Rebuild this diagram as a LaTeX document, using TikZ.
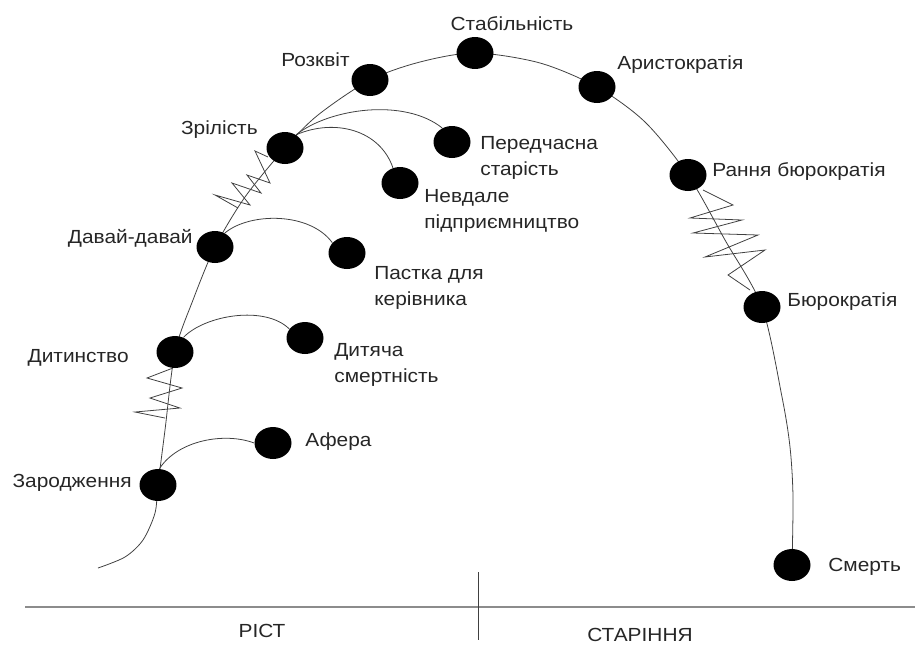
\documentclass[tikz,border=0pt]{standalone}
\usepackage{fontspec}
\setmainfont{Liberation Sans}[FakeStretch=1.1]
\usetikzlibrary{shapes.geometric,backgrounds}

\begin{document}
\begin{tikzpicture}[x=0.02cm,y=-0.02cm,
dot/.style={ellipse,fill=black,inner sep=0pt,minimum width=0.74cm,minimum height=0.64cm},
lbl/.style={inner sep=0pt,text=black!85,align=left,font=\fontsize{10.8}{14.8}\selectfont},
ln/.style={black!75,line width=0.45pt}]
\useasboundingbox(0,0)rectangle(915,646);
\node[dot](zar)at(158,485){};
\node[dot](afera)at(273,443){};
\node[dot](ditn)at(175,352){};
\node[dot](dyt)at(305,338){};
\node[dot](davai)at(215,247){};
\node[dot](pastka)at(347,253){};
\node[dot](zril)at(285,148){};
\node[dot](nevd)at(400,183){};
\node[dot](pered)at(452,142){};
\node[dot](rozkv)at(370,80){};
\node[dot](stab)at(475,53){};
\node[dot](aryst)at(597,87){};
\node[dot](rannia)at(688,175){};
\node[dot](biur)at(762,307){};
\node[dot](smert)at(792,565){};
\node[lbl,anchor=east](tzar)at(132,483){Зародження};
\node[lbl,anchor=west](tafera)at(305,442){Афера};
\node[lbl,anchor=east](tditn)at(129,358){Дитинство};
\node[lbl,anchor=west](tdyt)at(334,365){Дитяча\\смертність};
\node[lbl,anchor=east](tdavai)at(193,238){Давай-давай};
\node[lbl,anchor=west](tpastka)at(374,288){Пастка для\\керівника};
\node[lbl,anchor=east](tzril)at(258,130){Зрілість};
\node[lbl,anchor=west](tnevd)at(424,211){Невдале\\підприємництво};
\node[lbl,anchor=west](tpered)at(480,158){Передчасна\\старість};
\node[lbl,anchor=east](trozkv)at(350,60){Розквіт};
\node[lbl](tstab)at(512,24){Стабільність};
\node[lbl,anchor=west](taryst)at(617,65){Аристократія};
\node[lbl,anchor=west](trannia)at(712,172){Рання бюрократія};
\node[lbl,anchor=west](tbiur)at(787,302){Бюрократія};
\node[lbl,anchor=west](tsmert)at(828,567){Смерть};
\node[lbl](rist)at(262,631){РІСТ};
\node[lbl](star)at(640,635){СТАРІННЯ};
\begin{scope}[on background layer]
\draw[ln]plot[smooth,tension=0.5]coordinates{(98,568)(125,557)(143,540)(155,513)(zar.center)
(165,430)(ditn.center)(193,300)(davai.center)(245,197)(zril.center)(318,115)(rozkv.center)
(420,62)(stab.center)(540,63)(aryst.center)(645,122)(rannia.center)(725,240)(biur.center)
(782,397)(790,447)(793,497)(smert.center)};
\draw[ln](zar.85)..controls(178,440)and(225,432)..(afera.west);
\draw[ln](ditn.60)..controls(205,315)and(265,305)..(dyt.150);
\draw[ln](davai.55)..controls(250,212)and(310,212)..(pastka.145);
\draw[ln](zril.50)..controls(335,118)and(380,130)..(nevd.115);
\draw[ln](zril.50)..controls(330,108)and(405,98)..(pered.125);
\draw[ln](173,368)--(147,378)--(182,388)--(150,398)--(180,408)--(135,412)--(165,418);
\draw[ln](268,157)--(255,151)--(270,183)--(247,175)--(261,193)--(232,183)--(250,205)--(215,195)--(238,208);
\draw[ln](703,190)--(733,205)--(690,218)--(742,220)--(693,233)--(758,235)--(705,257)--(765,250)--(728,275)--(750,290);
\end{scope}
\draw[black!45,line width=1.2pt](25,607)--(915,607);
\draw[ln](478,572)--(478,640);
\end{tikzpicture}
\end{document}
